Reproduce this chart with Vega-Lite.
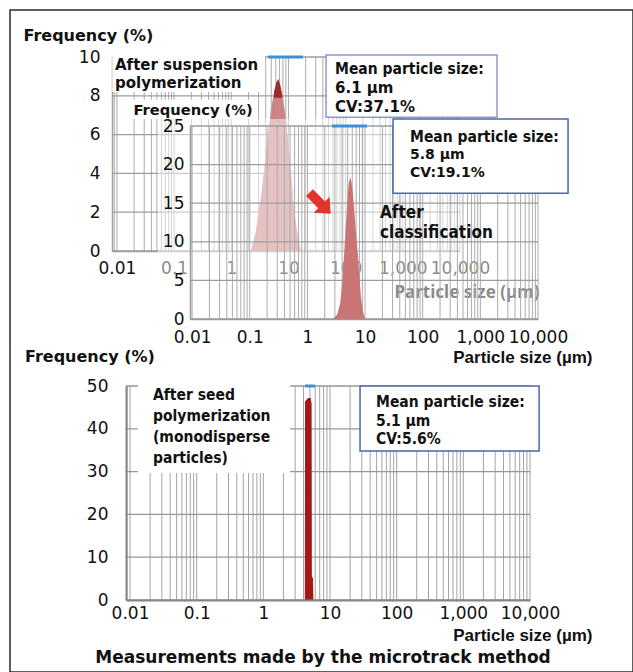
{
  "$schema": "https://vega.github.io/schema/vega-lite/v6.json",
  "width": 623,
  "height": 662,
  "autosize": "none",
  "padding": {"left": 10, "top": 10, "right": 0, "bottom": 0},
  "background": "white",
  "config": {"view": {"stroke": "#2a2a2a", "strokeWidth": 1.5}},
  "title": {"text": "Measurements made by the microtrack method", "orient": "bottom", "frame": "group", "anchor": "middle", "offset": -14, "baseline": "middle", "font": "DejaVu Sans", "fontSize": 17, "fontWeight": "bold", "color": "#111111", "dx": 1.5},
  "datasets": {
    "xg": [{"v":0.008},{"v":0.009},{"v":0.01},{"v":0.02},{"v":0.03},{"v":0.04},{"v":0.05},{"v":0.06},{"v":0.07},{"v":0.08},{"v":0.09},{"v":0.1},{"v":0.2},{"v":0.3},{"v":0.4},{"v":0.5},{"v":0.6},{"v":0.7},{"v":0.8},{"v":0.9},{"v":1},{"v":2},{"v":3},{"v":4},{"v":5},{"v":6},{"v":7},{"v":8},{"v":9},{"v":10},{"v":20},{"v":30},{"v":40},{"v":50},{"v":60},{"v":70},{"v":80},{"v":90},{"v":100},{"v":200},{"v":300},{"v":400},{"v":500},{"v":600},{"v":700},{"v":800},{"v":900},{"v":1000},{"v":2000},{"v":3000},{"v":4000},{"v":5000},{"v":6000},{"v":7000},{"v":8000},{"v":9000},{"v":10000}],
    "yg1": [{"f":0},{"f":2},{"f":4},{"f":6},{"f":8},{"f":10}],
    "yg2": [{"f":0},{"f":5},{"f":10},{"f":15},{"f":20},{"f":25}],
    "yg3": [{"f":0},{"f":10},{"f":20},{"f":30},{"f":40},{"f":50}],
    "c1": [{"size":2.2,"freq":0},{"size":2.4,"freq":0.4},{"size":2.7,"freq":1.0},{"size":3.0,"freq":2.0},{"size":3.4,"freq":3.0},{"size":3.8,"freq":4.3},{"size":4.4,"freq":6.0},{"size":5.0,"freq":7.3},{"size":5.6,"freq":8.2},{"size":6.2,"freq":8.7},{"size":6.6,"freq":8.85},{"size":7.1,"freq":8.6},{"size":7.8,"freq":8.0},{"size":8.6,"freq":7.2},{"size":9.6,"freq":6.0},{"size":10.7,"freq":4.6},{"size":12.0,"freq":2.7},{"size":13.5,"freq":1.4},{"size":15.0,"freq":0.5},{"size":16.5,"freq":0}],
    "c2": [{"size":2.8,"freq":0},{"size":3.3,"freq":0.6},{"size":3.7,"freq":2.0},{"size":4.0,"freq":4.5},{"size":4.3,"freq":8.0},{"size":4.6,"freq":11.5},{"size":4.9,"freq":15.0},{"size":5.2,"freq":17.5},{"size":5.5,"freq":18.4},{"size":5.8,"freq":17.8},{"size":6.1,"freq":16.5},{"size":6.4,"freq":14.8},{"size":6.9,"freq":11.5},{"size":7.5,"freq":8.5},{"size":8.0,"freq":5.5},{"size":8.5,"freq":2.8},{"size":9.2,"freq":1.0},{"size":10.0,"freq":0}],
    "c3": [{"size":4.2,"freq":0},{"size":4.22,"freq":46.3},{"size":4.7,"freq":47.2},{"size":5.1,"freq":47.2},{"size":5.25,"freq":46.0},{"size":5.3,"freq":5.5},{"size":5.55,"freq":5.0},{"size":5.6,"freq":0}]
  },
  "layer": [
    {
      "layer": [
        {"data": {"name": "c1"},
         "mark": {"type": "area", "color": "#cd8282", "opacity": 0.95, "orient": "vertical"},
         "encoding": {"x": {"field": "size", "type": "quantitative", "scale": {"type": "log", "domain": [0.0082, 10000], "range": [102, 450], "nice": false},
                            "axis": {"orient": "bottom", "offset": -421, "values": [0.01, 0.1, 1, 10, 100, 1000, 10000], "format": ",", "labelFlush": false, "labelOverlap": false, "ticks": false, "tickSize": 0, "grid": false, "domain": true, "domainColor": "#a0a0a0", "domainWidth": 1.5, "labelFont": "DejaVu Sans", "labelFontSize": 17, "labelColor": "#111111", "labelPadding": 17, "labelBaseline": "middle", "title": "Particle size (µm)", "titleFont": "Noto Sans", "titleFontSize": 17, "titleFontWeight": "bold", "titleColor": "#111111", "titleX": 529, "titleY": 41, "titleAlign": "right", "titleBaseline": "middle", "zindex": 0}},
                      "y": {"field": "freq", "type": "quantitative", "stack": null, "scale": {"domain": [0, 10], "range": [241, 47], "nice": false, "zero": false},
                            "axis": {"orient": "left", "offset": -102, "values": [0, 2, 4, 6, 8, 10], "format": "~g", "ticks": false, "tickSize": 0, "grid": false, "domain": true, "domainColor": "#a0a0a0", "domainWidth": 1.5, "labelFont": "DejaVu Sans", "labelFontSize": 17, "labelColor": "#111111", "labelPadding": 12, "labelFlush": false, "labelOverlap": false, "title": "Frequency (%)", "titleFont": "DejaVu Sans", "titleFontSize": 16, "titleFontWeight": "bold", "titleColor": "#111111", "titleAngle": 0, "titleX": -89, "titleY": 25, "titleAlign": "left", "titleBaseline": "middle", "zindex": 0}}}},
        {"data": {"name": "xg"}, "transform": [{"filter": "datum.v >= 0.0082 && datum.v <= 10000"}],
         "mark": {"type": "rule", "color": "#ababab", "strokeWidth": 1},
         "encoding": {"x": {"field": "v", "type": "quantitative", "scale": {"type": "log", "domain": [0.0082, 10000], "range": [102, 450], "nice": false}},
                      "y": {"datum": 0, "type": "quantitative", "scale": {"domain": [0, 10], "range": [241, 47], "nice": false, "zero": false}},
                      "y2": {"datum": 10}}},
        {"data": {"name": "yg1"},
         "mark": {"type": "rule", "color": "#9c9c9c", "strokeWidth": 1.3},
         "encoding": {"y": {"field": "f", "type": "quantitative", "scale": {"domain": [0, 10], "range": [241, 47], "nice": false, "zero": false}},
                      "x": {"datum": 0.0082, "type": "quantitative", "scale": {"type": "log", "domain": [0.0082, 10000], "range": [102, 450], "nice": false}},
                      "x2": {"datum": 10000}}},
        {"data": {"name": "c1"},
         "mark": {"type": "area", "color": "#cd8282", "opacity": 0.8, "orient": "vertical"},
         "encoding": {"x": {"field": "size", "type": "quantitative", "scale": {"type": "log", "domain": [0.0082, 10000], "range": [102, 450], "nice": false}},
                      "y": {"field": "freq", "type": "quantitative", "stack": null, "scale": {"domain": [0, 10], "range": [241, 47], "nice": false, "zero": false}}}},
        {"data": {"name": "c1"}, "transform": [{"filter": "datum.freq >= 7.9"}],
         "mark": {"type": "area", "color": "#a12a2e", "orient": "vertical"},
         "encoding": {"x": {"field": "size", "type": "quantitative", "scale": {"type": "log", "domain": [0.0082, 10000], "range": [102, 450], "nice": false}},
                      "y": {"field": "freq", "type": "quantitative", "scale": {"domain": [0, 10], "range": [241, 47], "nice": false, "zero": false}},
                      "y2": {"datum": 7.9}}},
        {"data": {"values": [{}]},
         "mark": {"type": "rule", "color": "#3d8fd8", "strokeWidth": 3},
         "encoding": {"x": {"datum": 4.39, "type": "quantitative", "scale": {"type": "log", "domain": [0.0082, 10000], "range": [102, 450], "nice": false}},
                      "x2": {"datum": 17.9},
                      "y": {"datum": 10, "type": "quantitative", "scale": {"domain": [0, 10], "range": [241, 47], "nice": false, "zero": false}}}},
        {"data": {"values": [{}]},
         "mark": {"type": "rect", "color": "white"},
         "encoding": {"x": {"datum": 0.0083, "type": "quantitative", "scale": {"type": "log", "domain": [0.0082, 10000], "range": [102, 450], "nice": false}},
                      "x2": {"datum": 3.89},
                      "y": {"datum": 8.2, "type": "quantitative", "scale": {"domain": [0, 10], "range": [241, 47], "nice": false, "zero": false}},
                      "y2": {"datum": 10.1}}},
        {"data": {"values": [{}]},
         "mark": {"type": "text", "text": ["After suspension", "polymerization"], "align": "left", "baseline": "middle", "font": "DejaVu Sans", "fontSize": 15, "fontWeight": "bold", "lineHeight": 18, "color": "#111111"},
         "encoding": {"x": {"datum": 0.00925, "type": "quantitative", "scale": {"type": "log", "domain": [0.0082, 10000], "range": [102, 450], "nice": false}},
                      "y": {"datum": 9.59, "type": "quantitative", "scale": {"domain": [0, 10], "range": [241, 47], "nice": false, "zero": false}}}},
        {"data": {"values": [{}]},
         "mark": {"type": "rect", "fill": "white", "stroke": "#8b9bc6", "strokeWidth": 1.5},
         "encoding": {"x": {"datum": 45.4, "type": "quantitative", "scale": {"type": "log", "domain": [0.0082, 10000], "range": [102, 450], "nice": false}},
                      "x2": {"datum": 44400},
                      "y": {"datum": 6.9, "type": "quantitative", "scale": {"domain": [0, 10], "range": [241, 47], "nice": false, "zero": false}},
                      "y2": {"datum": 10.1}}},
        {"data": {"values": [{}]},
         "mark": {"type": "text", "text": "Mean particle size:", "align": "left", "baseline": "middle", "font": "DejaVu Sans Condensed", "fontSize": 15.5, "fontWeight": "bold", "color": "#111111"},
         "encoding": {"x": {"datum": 65.2, "type": "quantitative", "scale": {"type": "log", "domain": [0.0082, 10000], "range": [102, 450], "nice": false}},
                      "y": {"datum": 9.38, "type": "quantitative", "scale": {"domain": [0, 10], "range": [241, 47], "nice": false, "zero": false}}}},
        {"data": {"values": [{}]},
         "mark": {"type": "text", "text": ["6.1 µm", "CV:37.1%"], "align": "left", "baseline": "middle", "font": "DejaVu Sans", "fontSize": 15, "fontWeight": "bold", "lineHeight": 19, "color": "#111111"},
         "encoding": {"x": {"datum": 65.2, "type": "quantitative", "scale": {"type": "log", "domain": [0.0082, 10000], "range": [102, 450], "nice": false}},
                      "y": {"datum": 8.4, "type": "quantitative", "scale": {"domain": [0, 10], "range": [241, 47], "nice": false, "zero": false}}}}
      ]
    },
    {
      "layer": [
        {"data": {"values": [{}]},
         "mark": {"type": "rect", "color": "white", "opacity": 0.5},
         "encoding": {"x": {"datum": 0.00256, "type": "quantitative", "scale": {"type": "log", "domain": [0.0092, 10000], "range": [180, 528], "nice": false}},
                      "x2": {"datum": 13200},
                      "y": {"datum": -0.78, "type": "quantitative", "scale": {"domain": [0, 25], "range": [309, 116], "nice": false, "zero": false}},
                      "y2": {"datum": 25.9}}},
        {"data": {"values": [{}]},
         "mark": {"type": "rect", "color": "white"},
         "encoding": {"x": {"datum": 0.000774, "type": "quantitative", "scale": {"type": "log", "domain": [0.0092, 10000], "range": [180, 528], "nice": false}},
                      "x2": {"datum": 0.139},
                      "y": {"datum": 25.9, "type": "quantitative", "scale": {"domain": [0, 25], "range": [309, 116], "nice": false, "zero": false}},
                      "y2": {"datum": 28.4}}},
        {"data": {"name": "xg"}, "transform": [{"filter": "datum.v >= 0.0092 && datum.v <= 10000"}],
         "mark": {"type": "rule", "color": "#ababab", "strokeWidth": 1},
         "encoding": {"x": {"field": "v", "type": "quantitative", "scale": {"type": "log", "domain": [0.0092, 10000], "range": [180, 528], "nice": false}},
                      "y": {"datum": 0, "type": "quantitative", "scale": {"domain": [0, 25], "range": [309, 116], "nice": false, "zero": false}},
                      "y2": {"datum": 25}}},
        {"data": {"name": "yg2"},
         "mark": {"type": "rule", "color": "#9c9c9c", "strokeWidth": 1.3},
         "encoding": {"y": {"field": "f", "type": "quantitative", "scale": {"domain": [0, 25], "range": [309, 116], "nice": false, "zero": false}},
                      "x": {"datum": 0.0092, "type": "quantitative", "scale": {"type": "log", "domain": [0.0092, 10000], "range": [180, 528], "nice": false}},
                      "x2": {"datum": 10000}}},
        {"data": {"name": "c2"},
         "mark": {"type": "area", "color": "#c97575", "orient": "vertical"},
         "encoding": {"x": {"field": "size", "type": "quantitative", "scale": {"type": "log", "domain": [0.0092, 10000], "range": [180, 528], "nice": false},
                            "axis": {"orient": "bottom", "offset": -353, "values": [0.01, 0.1, 1, 10, 100, 1000, 10000], "format": ",", "labelFlush": false, "labelOverlap": false, "ticks": false, "tickSize": 0, "grid": false, "domain": true, "domainColor": "#9a9a9a", "domainWidth": 1.5, "labelFont": "DejaVu Sans", "labelFontSize": 17, "labelColor": "#111111", "labelPadding": 18, "labelBaseline": "middle", "title": "Particle size (µm)", "titleFont": "Liberation Sans", "titleFontSize": 17, "titleFontWeight": "bold", "titleColor": "#111111", "titleX": 582, "titleY": 38, "titleAlign": "right", "titleBaseline": "middle", "zindex": 1}},
                      "y": {"field": "freq", "type": "quantitative", "stack": null, "scale": {"domain": [0, 25], "range": [309, 116], "nice": false, "zero": false},
                            "axis": {"orient": "left", "offset": -180, "values": [0, 5, 10, 15, 20, 25], "format": "~g", "ticks": false, "tickSize": 0, "grid": false, "domain": true, "domainColor": "#9a9a9a", "domainWidth": 1.5, "labelFont": "DejaVu Sans", "labelFontSize": 17, "labelColor": "#111111", "labelPadding": 6, "labelFlush": false, "labelOverlap": false, "title": "Frequency (%)", "titleFont": "DejaVu Sans", "titleFontSize": 14.7, "titleFontWeight": "bold", "titleColor": "#111111", "titleAngle": 0, "titleX": -57, "titleY": 100, "titleAlign": "left", "titleBaseline": "middle", "zindex": 1}}}},
        {"data": {"values": [{}]},
         "mark": {"type": "rule", "color": "#3d8fd8", "strokeWidth": 3},
         "encoding": {"x": {"datum": 2.67, "type": "quantitative", "scale": {"type": "log", "domain": [0.0092, 10000], "range": [180, 528], "nice": false}},
                      "x2": {"datum": 10.8},
                      "y": {"datum": 25, "type": "quantitative", "scale": {"domain": [0, 25], "range": [309, 116], "nice": false, "zero": false}}}},
        {"data": {"values": [{}]},
         "mark": {"type": "point", "shape": "M-1,-0.32L0.15,-0.32L0.15,-0.75L1,0L0.15,0.75L0.15,0.32L-1,0.32Z", "filled": true, "color": "#e0342c", "opacity": 1, "size": 900, "angle": 45},
         "encoding": {"x": {"datum": 1.66, "type": "quantitative", "scale": {"type": "log", "domain": [0.0092, 10000], "range": [180, 528], "nice": false}},
                      "y": {"datum": 15, "type": "quantitative", "scale": {"domain": [0, 25], "range": [309, 116], "nice": false, "zero": false}}}},
        {"data": {"values": [{}]},
         "mark": {"type": "text", "text": ["After", "classification"], "align": "left", "baseline": "middle", "font": "DejaVu Sans Condensed", "fontSize": 17, "fontWeight": "bold", "lineHeight": 20, "color": "#111111"},
         "encoding": {"x": {"datum": 18.2, "type": "quantitative", "scale": {"type": "log", "domain": [0.0092, 10000], "range": [180, 528], "nice": false}},
                      "y": {"datum": 13.73, "type": "quantitative", "scale": {"domain": [0, 25], "range": [309, 116], "nice": false, "zero": false}}}},
        {"data": {"values": [{}]},
         "mark": {"type": "rect", "fill": "white", "stroke": "#4a67a8", "strokeWidth": 1.5},
         "encoding": {"x": {"datum": 30.6, "type": "quantitative", "scale": {"type": "log", "domain": [0.0092, 10000], "range": [180, 528], "nice": false}},
                      "x2": {"datum": 33200},
                      "y": {"datum": 16.3, "type": "quantitative", "scale": {"domain": [0, 25], "range": [309, 116], "nice": false, "zero": false}},
                      "y2": {"datum": 25.9}}},
        {"data": {"values": [{}]},
         "mark": {"type": "text", "text": "Mean particle size:", "align": "left", "baseline": "middle", "font": "DejaVu Sans Condensed", "fontSize": 15.5, "fontWeight": "bold", "color": "#111111"},
         "encoding": {"x": {"datum": 60.3, "type": "quantitative", "scale": {"type": "log", "domain": [0.0092, 10000], "range": [180, 528], "nice": false}},
                      "y": {"datum": 23.6, "type": "quantitative", "scale": {"domain": [0, 25], "range": [309, 116], "nice": false, "zero": false}}}},
        {"data": {"values": [{}]},
         "mark": {"type": "text", "text": ["5.8 µm", "CV:19.1%"], "align": "left", "baseline": "middle", "font": "DejaVu Sans", "fontSize": 14, "fontWeight": "bold", "lineHeight": 18, "color": "#111111"},
         "encoding": {"x": {"datum": 60.3, "type": "quantitative", "scale": {"type": "log", "domain": [0.0092, 10000], "range": [180, 528], "nice": false}},
                      "y": {"datum": 21.24, "type": "quantitative", "scale": {"domain": [0, 25], "range": [309, 116], "nice": false, "zero": false}}}}
      ]
    },
    {
      "layer": [
        {"data": {"name": "c3"},
         "mark": {"type": "area", "color": "#a51818", "orient": "vertical"},
         "encoding": {"x": {"field": "size", "type": "quantitative", "scale": {"type": "log", "domain": [0.0087, 10000], "range": [116, 520], "nice": false},
                            "axis": {"orient": "bottom", "offset": -72, "values": [0.01, 0.1, 1, 10, 100, 1000, 10000], "format": ",", "labelFlush": false, "labelOverlap": false, "ticks": false, "tickSize": 0, "grid": false, "domain": true, "domainColor": "#858585", "domainWidth": 2, "labelFont": "DejaVu Sans", "labelFontSize": 17, "labelColor": "#111111", "labelPadding": 13, "labelBaseline": "middle", "title": "Particle size (µm)", "titleFont": "Liberation Sans", "titleFontSize": 17, "titleFontWeight": "bold", "titleColor": "#111111", "titleX": 582, "titleY": 35, "titleAlign": "right", "titleBaseline": "middle", "zindex": 1}},
                      "y": {"field": "freq", "type": "quantitative", "stack": null, "scale": {"domain": [0, 50], "range": [590, 376], "nice": false, "zero": false},
                            "axis": {"orient": "left", "offset": -116, "values": [0, 10, 20, 30, 40, 50], "format": "~g", "ticks": false, "tickSize": 0, "grid": false, "domain": true, "domainColor": "#858585", "domainWidth": 2, "labelFont": "DejaVu Sans", "labelFontSize": 17, "labelColor": "#111111", "labelPadding": 18, "labelFlush": false, "labelOverlap": false, "title": "Frequency (%)", "titleFont": "DejaVu Sans", "titleFontSize": 16, "titleFontWeight": "bold", "titleColor": "#111111", "titleAngle": 0, "titleX": -101.5, "titleY": 346, "titleAlign": "left", "titleBaseline": "middle", "zindex": 1}}}},
        {"data": {"name": "xg"}, "transform": [{"filter": "datum.v >= 0.0087 && datum.v <= 10000"}],
         "mark": {"type": "rule", "color": "#a3a3a3", "strokeWidth": 1},
         "encoding": {"x": {"field": "v", "type": "quantitative", "scale": {"type": "log", "domain": [0.0087, 10000], "range": [116, 520], "nice": false}},
                      "y": {"datum": 0, "type": "quantitative", "scale": {"domain": [0, 50], "range": [590, 376], "nice": false, "zero": false}},
                      "y2": {"datum": 50}}},
        {"data": {"name": "yg3"},
         "mark": {"type": "rule", "color": "#969696", "strokeWidth": 1.3},
         "encoding": {"y": {"field": "f", "type": "quantitative", "scale": {"domain": [0, 50], "range": [590, 376], "nice": false, "zero": false}},
                      "x": {"datum": 0.0087, "type": "quantitative", "scale": {"type": "log", "domain": [0.0087, 10000], "range": [116, 520], "nice": false}},
                      "x2": {"datum": 10000}}},
        {"data": {"name": "c3"},
         "mark": {"type": "area", "color": "#a51818", "orient": "vertical"},
         "encoding": {"x": {"field": "size", "type": "quantitative", "scale": {"type": "log", "domain": [0.0087, 10000], "range": [116, 520], "nice": false}},
                      "y": {"field": "freq", "type": "quantitative", "stack": null, "scale": {"domain": [0, 50], "range": [590, 376], "nice": false, "zero": false}}}},
        {"data": {"values": [{}]},
         "mark": {"type": "rule", "color": "#3d8fd8", "strokeWidth": 3},
         "encoding": {"x": {"datum": 4.22, "type": "quantitative", "scale": {"type": "log", "domain": [0.0087, 10000], "range": [116, 520], "nice": false}},
                      "x2": {"datum": 5.96},
                      "y": {"datum": 50, "type": "quantitative", "scale": {"domain": [0, 50], "range": [590, 376], "nice": false, "zero": false}}}},
        {"data": {"values": [{}]},
         "mark": {"type": "rect", "color": "white"},
         "encoding": {"x": {"datum": 0.0132, "type": "quantitative", "scale": {"type": "log", "domain": [0.0087, 10000], "range": [116, 520], "nice": false}},
                      "x2": {"datum": 2.51},
                      "y": {"datum": 29.7, "type": "quantitative", "scale": {"domain": [0, 50], "range": [590, 376], "nice": false, "zero": false}},
                      "y2": {"datum": 50.7}}},
        {"data": {"values": [{}]},
         "mark": {"type": "text", "text": ["After seed", "polymerization", "(monodisperse", "particles)"], "align": "left", "baseline": "middle", "font": "DejaVu Sans Condensed", "fontSize": 15.5, "fontWeight": "bold", "lineHeight": 21, "color": "#111111"},
         "encoding": {"x": {"datum": 0.0221, "type": "quantitative", "scale": {"type": "log", "domain": [0.0087, 10000], "range": [116, 520], "nice": false}},
                      "y": {"datum": 47.9, "type": "quantitative", "scale": {"domain": [0, 50], "range": [590, 376], "nice": false, "zero": false}}}},
        {"data": {"values": [{}]},
         "mark": {"type": "rect", "fill": "white", "stroke": "#4a67a8", "strokeWidth": 1.5},
         "encoding": {"x": {"datum": 28.2, "type": "quantitative", "scale": {"type": "log", "domain": [0.0087, 10000], "range": [116, 520], "nice": false}},
                      "x2": {"datum": 13700},
                      "y": {"datum": 34.8, "type": "quantitative", "scale": {"domain": [0, 50], "range": [590, 376], "nice": false, "zero": false}},
                      "y2": {"datum": 50}}},
        {"data": {"values": [{}]},
         "mark": {"type": "text", "text": ["Mean particle size:", "5.1 µm", "CV:5.6%"], "align": "left", "baseline": "middle", "font": "DejaVu Sans Condensed", "fontSize": 15.5, "fontWeight": "bold", "lineHeight": 18.5, "color": "#111111"},
         "encoding": {"x": {"datum": 49.0, "type": "quantitative", "scale": {"type": "log", "domain": [0.0087, 10000], "range": [116, 520], "nice": false}},
                      "y": {"datum": 46.26, "type": "quantitative", "scale": {"domain": [0, 50], "range": [590, 376], "nice": false, "zero": false}}}}
      ]
    }
  ],
  "resolve": {"scale": {"x": "independent", "y": "independent"}, "axis": {"x": "independent", "y": "independent"}}
}
